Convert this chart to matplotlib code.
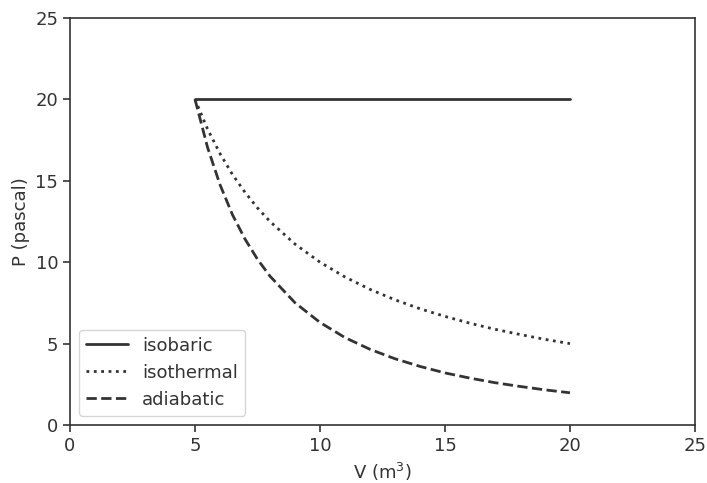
import numpy as np
import matplotlib.pyplot as plt
import seaborn as sns

sns.set_style('ticks')
plt.rcParams['font.family'] = ['DejaVu Sans']

# volumes (m^3) and pressures (pascal) for the three processes
V = [5, 5.5, 6, 6.5, 7, 7.5, 8, 9, 10, 11, 12, 13, 14, 15, 16, 17, 18, 19, 20]
P_isobaric = [20] * len(V)
P_isothermal = [20.0, 18.18, 16.67, 15.38, 14.29, 13.33, 12.5, 11.11, 10.0, 9.09,
                8.33, 7.69, 7.14, 6.67, 6.25, 5.88, 5.56, 5.26, 5.0]
P_adiabatic = [20.0, 17.06, 14.76, 12.91, 11.42, 10.18, 9.14, 7.51, 6.30, 5.37,
               4.65, 4.07, 3.60, 3.20, 2.88, 2.60, 2.37, 2.16, 1.98]

dark = '#333333'
fig, ax = plt.subplots(figsize=(7.07, 4.83), dpi=100)

ax.plot(V, P_isobaric, '-', color=dark, lw=2, label='isobaric')
ax.plot(V, P_isothermal, ':', color=dark, lw=2, label='isothermal')
ax.plot(V, P_adiabatic, '--', color=dark, lw=2, label='adiabatic')

ax.set_xlim(0, 25)
ax.set_ylim(0, 25)
ax.set_xticks(np.arange(0, 26, 5))
ax.set_yticks(np.arange(0, 26, 5))
ax.set_xlabel('V (m$^3$)', fontsize=13, color=dark)
ax.set_ylabel('P (pascal)', fontsize=13, color=dark)
ax.tick_params(labelsize=13, colors=dark, length=5, width=1.2)
for s in ax.spines.values():
    s.set_color(dark)
    s.set_linewidth(1.2)

ax.legend(loc='lower left', fontsize=13, labelcolor=dark, handlelength=2.3)

plt.subplots_adjust(left=0.099, right=0.983, top=0.963, bottom=0.12)
plt.savefig('out.png', dpi=100)
